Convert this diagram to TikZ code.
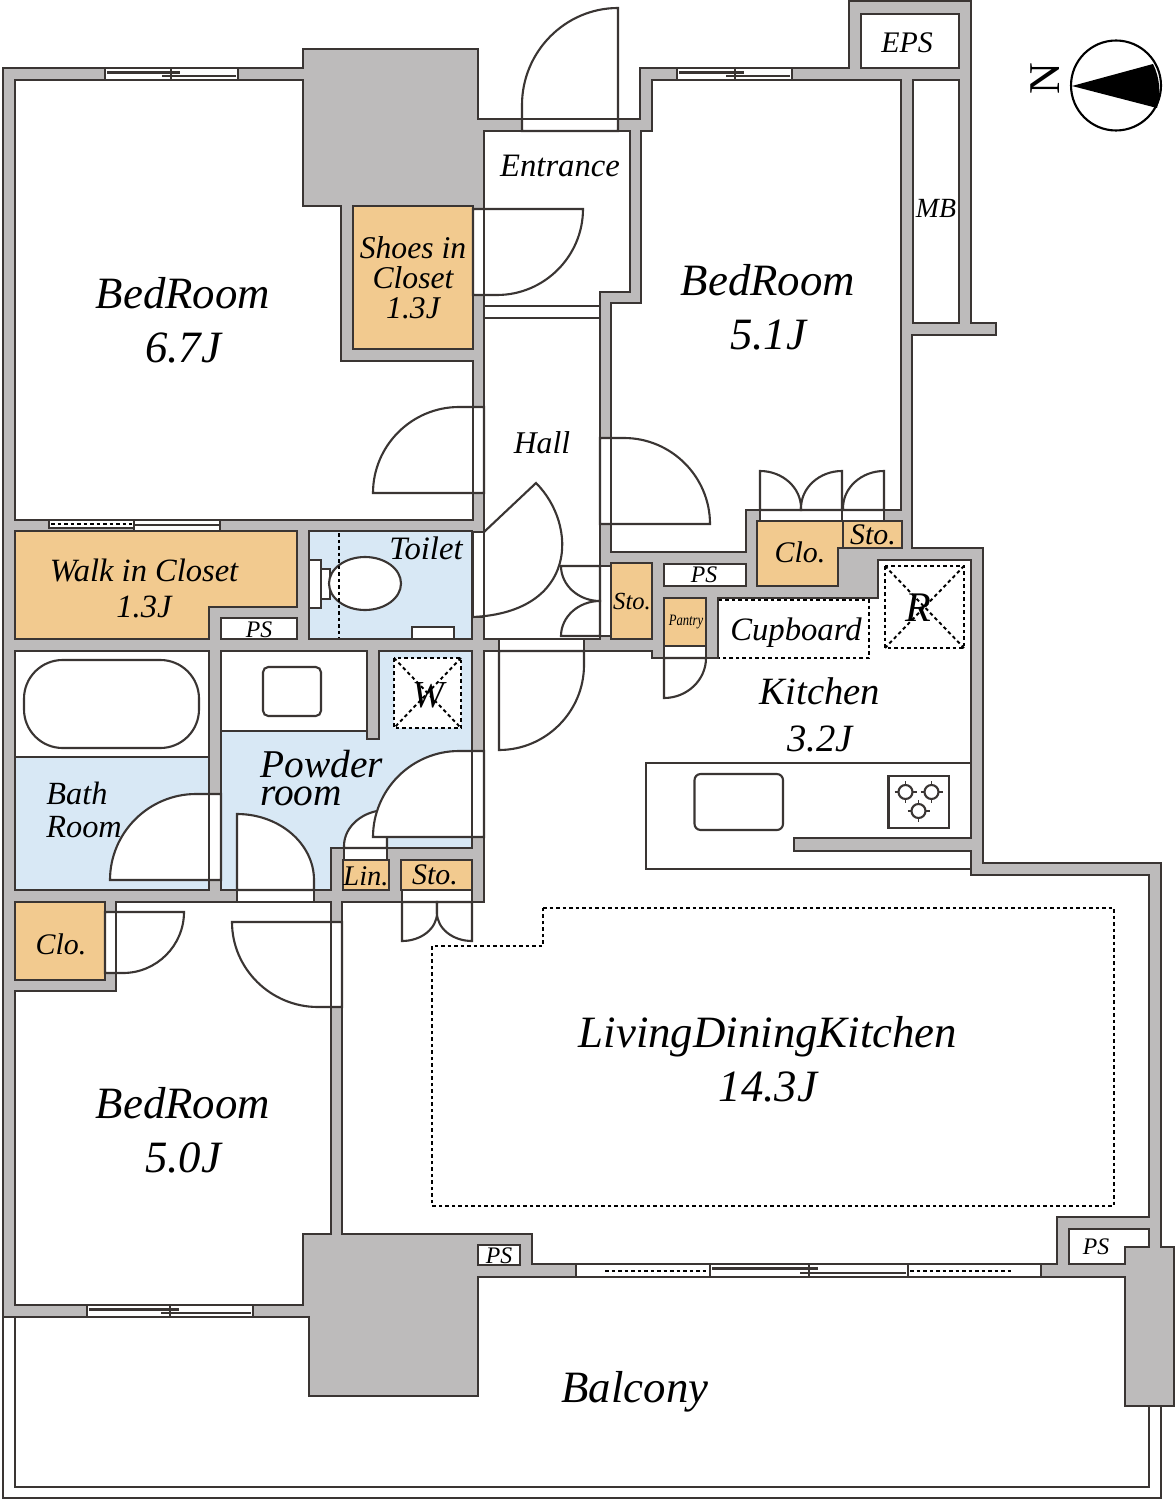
\documentclass[tikz,border=0pt]{standalone}
\usepackage{fontspec}
\setmainfont{Liberation Serif}
\usetikzlibrary{calc}
\definecolor{wallgray}{HTML}{BDBBBB}
\definecolor{inkline}{HTML}{3A3533}
\definecolor{closetfill}{HTML}{F2CA8F}
\definecolor{wetfill}{HTML}{D8E8F5}
\tikzset{
	plan/.style={draw=inkline,line width=1.2pt,line join=miter},
	wall/.style={plan,fill=wallgray},
	room/.style={plan,fill=white},
	closet/.style={plan,fill=closetfill},
	wetroom/.style={plan,fill=wetfill},
	leaf/.style={plan,fill=white},
	dashline/.style={draw=black,line width=1.1pt,dash pattern=on 2pt off 1.7pt},
	biglabel/.style={font=\fontsize{25.5}{30.7}\selectfont\itshape,align=center,inner sep=0pt},
	kitlabel/.style={font=\fontsize{22}{26.7}\selectfont\itshape,align=center,inner sep=0pt},
	midlabel/.style={font=\fontsize{18}{17}\selectfont\itshape,align=center,inner sep=0pt},
	stolabel/.style={font=\fontsize{17}{20}\selectfont\itshape,inner sep=0pt},
	smalllabel/.style={font=\fontsize{13.5}{16}\selectfont\itshape,inner sep=0pt},
}
\newcommand{\swingdoor}[5]{\draw[leaf] (#1) -- (#2) .. controls ($(#2)!.55!(#3)$) and ($(#4)!.55!(#3)$) .. (#4) -- (#5) -- cycle;}
\newcommand{\slider}[5]{
	\draw[plan,fill=white] (#1,#4) rectangle (#3,#5);
	\draw[plan] (#1,#4) ++(2,4.5) -- ($(#2,#4)+(9,4.5)$);
	\draw[plan] ($(#2,#5)+(-9,-4)$) -- ($(#3,#5)+(-2,-4)$);
	\draw[plan] (#2,#4) -- (#2,#5);
}
\begin{document}
\begin{tikzpicture}[x=0.02cm,y=-0.02cm]
	\useasboundingbox (0,0) rectangle (1175,1500);
	\fill[white] (0,0) rectangle (1175,1500);

	\draw[plan] (3,1317) -- (3,1498) -- (1161,1498) -- (1161,1406);
	\draw[plan] (15,1317) -- (15,1487) -- (1149,1487) -- (1149,1406);

	\draw[wall] (3,68) -- (303,68) -- (303,49) -- (478,49) -- (478,119) -- (640,119) -- (640,68) -- (849,68) -- (849,1) -- (971,1) -- (971,323) -- (996,323) -- (996,335) -- (912,335) -- (912,548) -- (983,548) -- (983,863) -- (1161,863) -- (1161,1247) -- (1174,1247) -- (1174,1406) -- (1125,1406) -- (1125,1277) -- (478,1277) -- (478,1396) -- (309,1396) -- (309,1317) -- (3,1317) -- cycle;

	\draw[room] (15,80) -- (303,80) -- (303,206) -- (341,206) -- (341,361) -- (473,361) -- (473,520) -- (15,520) -- cycle;
	\draw[closet] (353,206) rectangle (473,349);
	\draw[room] (484,131) -- (630,131) -- (630,292) -- (600,292) -- (600,639) -- (484,639) -- cycle;
	\draw[plan] (484,306) -- (600,306);
	\draw[plan] (484,318) -- (600,318);
	\draw[room] (652,80) -- (901,80) -- (901,510) -- (746,510) -- (746,552) -- (611,552) -- (611,303) -- (641,303) -- (641,131) -- (652,131) -- cycle;
	\draw[room] (861,14) rectangle (959,68);
	\draw[room] (913,80) rectangle (959,323);
	\draw[closet] (757,521) -- (843,521) -- (843,548) -- (838,548) -- (838,586) -- (757,586) -- cycle;
	\draw[closet] (843,521) rectangle (902,548);
	\draw[room] (664,564) rectangle (746,586);
	\draw[closet] (611,563) rectangle (652,639);
	\draw[closet] (664,598) rectangle (706,646);
	\draw[room] (484,651) -- (652,651) -- (652,658) -- (718,658) -- (718,598) -- (878,598) -- (878,560) -- (971,560) -- (971,838) -- (794,838) -- (794,851) -- (971,851) -- (971,875) -- (1149,875) -- (1149,1217) -- (1057,1217) -- (1057,1264) -- (532,1264) -- (532,1234) -- (342,1234) -- (342,902) -- (484,902) -- cycle;
	\draw[room] (116,902) -- (331,902) -- (331,1234) -- (303,1234) -- (303,1305) -- (15,1305) -- (15,991) -- (116,991) -- cycle;
	\draw[closet] (15,902) rectangle (105,980);
	\draw[closet] (15,531) -- (297,531) -- (297,607) -- (209,607) -- (209,639) -- (15,639) -- cycle;
	\draw[room] (221,618) rectangle (297,639);
	\draw[wetroom] (309,531) rectangle (472,639);
	\draw[room] (15,651) rectangle (209,757);
	\draw[wetroom] (15,757) rectangle (209,890);
	\draw[room] (221,651) rectangle (367,731);
	\draw[wetroom] (221,731) -- (367,731) -- (367,739) -- (379,739) -- (379,651) -- (472,651) -- (472,848) -- (331,848) -- (331,890) -- (221,890) -- cycle;
	\draw[closet] (343,860) rectangle (389,890);
	\draw[closet] (401,860) rectangle (472,890);
	\draw[room] (478,1245) rectangle (520,1265);
	\draw[room] (1069,1229) -- (1149,1229) -- (1149,1247) -- (1125,1247) -- (1125,1264) -- (1069,1264) -- cycle;

	\def\openings{522/119/618/131,473/209/484/295,473/407/484/493,600/438/611/524,473/532/484/617,600/566/611/636,499/639/584/651,664/646/706/658,209/794/221/880,237/890/314/902,472/751/484/837,344/848/387/860,402/890/472/902,331/922/342/1007,105/912/116/973,760/510/884/521}
	\foreach \xa/\ya/\xb/\yb in \openings
		\fill[white] (\xa,\ya) rectangle (\xb,\yb);

	\swingdoor{618,131}{618,8}{522,8}{522,105}{522,131}
	\swingdoor{473,209}{583,209}{583,295}{497,295}{473,295}
	\swingdoor{484,493}{373,493}{373,407}{459,407}{484,407}
	\swingdoor{600,524}{710,524}{710,438}{624,438}{600,438}
	\draw[leaf] (484,532) -- (536,483) .. controls (578,525) and (578,612) .. (473,617);
	\swingdoor{600,566}{561,566}{561,601}{600,601}{600,601}
	\swingdoor{600,636}{561,636}{561,601}{600,601}{600,601}
	\swingdoor{499,651}{499,750}{584,750}{584,665}{584,651}
	\swingdoor{664,658}{664,698}{706,698}{706,658}{706,658}
	\swingdoor{221,880}{110,880}{110,794}{196,794}{221,794}
	\swingdoor{237,890}{237,814}{314,814}{314,880}{314,890}
	\swingdoor{387,848}{387,810}{344,810}{344,846}{344,848}
	\swingdoor{484,837}{373,837}{373,751}{459,751}{484,751}
	\swingdoor{402,902}{402,941}{437,941}{437,913}{437,902}
	\swingdoor{472,902}{472,941}{437,941}{437,913}{437,902}
	\swingdoor{342,922}{232,922}{232,1007}{318,1007}{342,1007}
	\swingdoor{105,912}{184,912}{184,973}{123,973}{105,973}
	\swingdoor{760,510}{760,471}{801,471}{801,508}{801,510}
	\swingdoor{842,510}{842,471}{801,471}{801,508}{801,510}
	\swingdoor{884,510}{884,471}{843,471}{843,508}{843,510}

	\foreach \xa/\ya/\xb/\yb in \openings
		\draw[plan] (\xa,\ya) rectangle (\xb,\yb);
	\draw[plan] (842,510) -- (842,521);

	\slider{105}{171}{238}{68}{80}
	\slider{677}{735}{792}{68}{80}
	\slider{87}{170}{253}{1305}{1317}
	\draw[plan,fill=white] (576,1264) rectangle (1041,1277);
	\slider{710}{809}{908}{1264}{1277}
	\draw[dashline] (605,1271) -- (708,1271);
	\draw[dashline] (910,1271) -- (1012,1271);
	\draw[plan,fill=white] (49,520) rectangle (134,528);
	\draw[dashline] (51,524) -- (132,524);
	\draw[plan,fill=white] (134,520) rectangle (220,531);
	\draw[plan] (134,525) -- (220,525);

	\draw[plan,fill=white,rounded corners=22pt] (24,660) rectangle (199,748);
	\draw[plan,fill=white,rounded corners=3pt] (263,667) rectangle (321,716);
	\draw[plan,fill=white] (309,560) rectangle (321,608);
	\draw[plan,fill=white] (321,569) rectangle (330,599);
	\draw[plan,fill=white] (365,583.5) ellipse (36 and 26.5);
	\draw[dashline] (339,533) -- (339,638);
	\draw[plan,fill=white] (412,627) rectangle (454,639);
	\draw[dashline,fill=white] (394,658) rectangle (461,728);
	\draw[dashline] (394,658) -- (461,728);
	\draw[dashline] (461,658) -- (394,728);
	\draw[dashline] (718.5,600) -- (869,600) -- (869,658) -- (718.5,658);
	\draw[dashline] (885,566) rectangle (964,648);
	\draw[dashline] (885,566) -- (964,648);
	\draw[dashline] (964,566) -- (885,648);
	\draw[dashline] (543,908) -- (1114,908) -- (1114,1206) -- (432,1206) -- (432,946) -- (543,946) -- cycle;

	\draw[plan] (971,763) -- (646,763) -- (646,869) -- (971,869);
	\draw[plan,rounded corners=3.5pt] (694.5,774) rectangle (783,830);
	\draw[plan] (888.5,776) rectangle (949,828);
	\foreach \bx/\by in {905.5/792,931.5/792,918.5/811} {
		\draw[plan] (\bx,\by) circle (7);
		\draw[plan,line width=.7pt] (\bx-11,\by) -- (\bx-7,\by) (\bx+7,\by) -- (\bx+11,\by) (\bx,\by-11) -- (\bx,\by-7) (\bx,\by+7) -- (\bx,\by+11);
	}

	\node[circle,draw=black,line width=1.2pt,fill=white,minimum size=1.8cm,inner sep=0pt] (compass) at (1116,85.5) {};
	\fill[black] (1072,86) -- (1153,64) .. controls (1160,78) and (1161,94) .. (1157,108) -- cycle;
	\node[font=\fontsize{25}{30}\selectfont,rotate=90,inner sep=0pt] (north) at (1045,79) {N};

	\node[biglabel] (bed1) at (183,320) {BedRoom\\6.7J};
	\node[biglabel] (bed2) at (768,307) {BedRoom\\5.1J};
	\node[biglabel] (bed3) at (183,1130) {BedRoom\\5.0J};
	\node[biglabel] (ldk) at (768,1059) {LivingDiningKitchen\\14.3J};
	\node[biglabel] (balcony) at (635,1392) {Balcony};
	\node[kitlabel] (kitchen) at (820,715) {Kitchen\\3.2J};
	\node[font=\fontsize{18.6}{24}\selectfont\itshape,inner sep=0pt] (cupboard) at (796,633) {Cupboard};
	\node[font=\fontsize{22.4}{16}\selectfont\itshape,align=left,inner sep=0pt,anchor=west] (powder) at (260,778) {Powder\\room};
	\node[font=\fontsize{18.4}{18.8}\selectfont\itshape,align=left,inner sep=0pt,anchor=west] (bath) at (46,810) {Bath\\Room};
	\node[midlabel,font=\fontsize{18.6}{30}\selectfont\itshape] (entrance) at (560,166) {Entrance};
	\node[midlabel,font=\fontsize{18}{17}\selectfont\itshape] (shoes) at (413,278) {Shoes in\\Closet\\1.3J};
	\node[midlabel] (hall) at (542,443) {Hall};
	\node[midlabel,font=\fontsize{18.5}{20.5}\selectfont\itshape] (walkin) at (144,588) {Walk in Closet\\1.3J};
	\node[midlabel,font=\fontsize{18.6}{20}\selectfont\itshape] (toilet) at (426,548) {Toilet};
	\node[stolabel] (eps) at (907,43) {EPS};
	\node[font=\fontsize{15.8}{18}\selectfont\itshape,inner sep=0pt] (mb) at (936,208) {MB};
	\node[stolabel] (clo1) at (800,552) {Clo.};
	\node[stolabel] (clo2) at (61,944) {Clo.};
	\node[stolabel] (sto1) at (873,535) {Sto.};
	\node[stolabel] (sto2) at (435,875) {Sto.};
	\node[font=\fontsize{16.2}{18}\selectfont\itshape,inner sep=0pt] (lin) at (366,876) {Lin.};
	\node[smalllabel,font=\fontsize{14}{16}\selectfont\itshape] (sto3) at (632,602) {Sto.};
	\node[font=\fontsize{9}{10}\selectfont\itshape,inner sep=0pt] (pantry) at (686,622) {\scalebox{.8}[1]{Pantry}};
	\node[smalllabel] (ps1) at (259,630) {PS};
	\node[smalllabel] (ps2) at (704,575) {PS};
	\node[smalllabel] (ps3) at (499,1256) {PS};
	\node[smalllabel] (ps4) at (1096,1247) {PS};
	\node[font=\fontsize{21.7}{24}\selectfont\itshape,inner sep=0pt] (wash) at (428,695) {W};
	\node[font=\fontsize{24}{28}\selectfont\itshape,inner sep=0pt] (fridge) at (918,608) {R};
\end{tikzpicture}
\end{document}
